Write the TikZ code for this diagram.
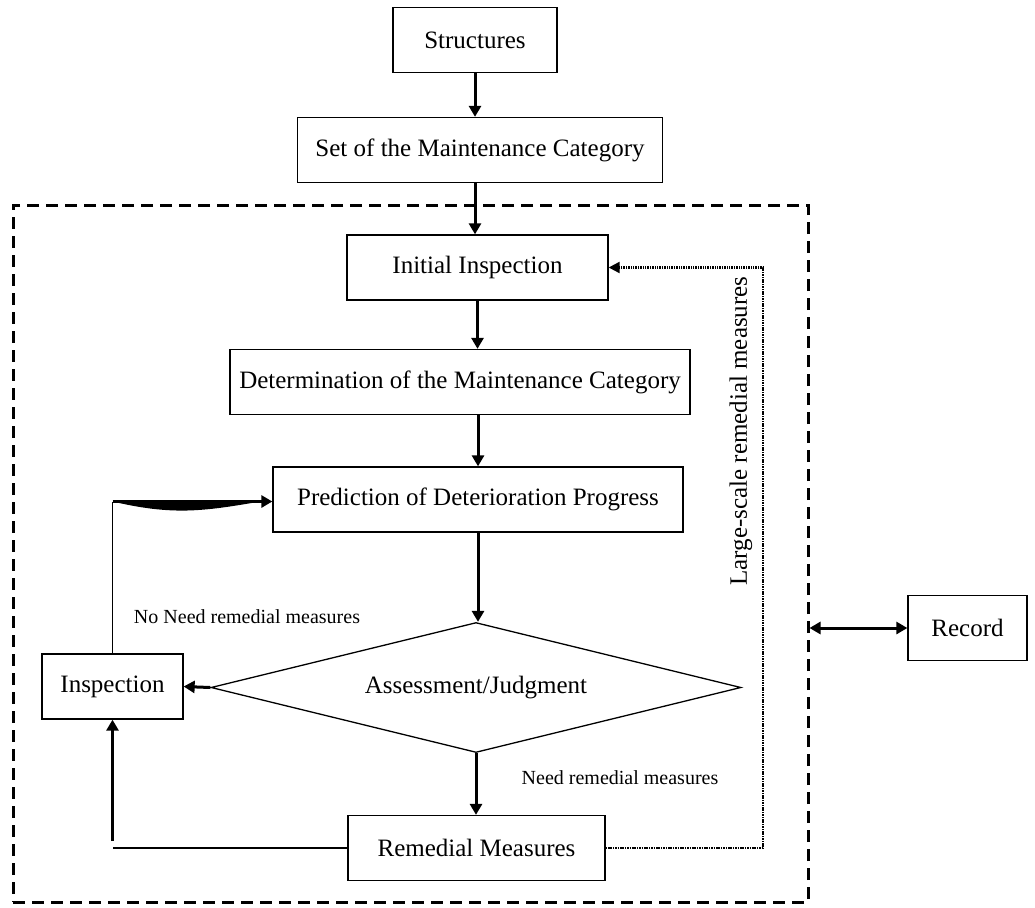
\documentclass[tikz,border=0pt]{standalone}
\usepackage{fontspec}
\setmainfont{Liberation Serif}
\usetikzlibrary{arrows.meta, shapes.geometric, calc}
\tikzset{>={Triangle[length=11pt,width=12pt]}}
\tikzset{box/.style={draw, line width=1.3pt, inner sep=0pt, minimum height=65pt, font=\fontsize{25}{30}\selectfont},
	flow/.style={line width=3pt, ->},
	note/.style={font=\fontsize{20}{24}\selectfont}}

\begin{document}
\begin{tikzpicture}[x=1pt, y=-1pt]

	\useasboundingbox (0,0) rectangle (1035,907);

	% outer frame
	\node (frame) [draw, line width=3pt, dash pattern=on 12pt off 7pt, minimum width=795pt, minimum height=697pt] at (410.5,553.5) {};

	\node (structures) [box, minimum width=164pt] at (475,40) {Structures};
	\node (setcat) [box, minimum width=365pt] at (480,150) {Set of the Maintenance Category};
	\node (initial) [box, minimum width=261pt] at (477.5,267.5) {Initial Inspection};
	\node (determ) [box, minimum width=460pt] at (460,382) {Determination of the Maintenance Category};
	\node (predict) [box, minimum width=410pt] at (478,499.5) {Prediction of Deterioration Progress};
	\node (judge) [diamond, draw, line width=1.3pt, inner sep=0pt, shape aspect=4.08, minimum width=530pt, minimum height=130pt, font=\fontsize{25}{30}\selectfont] at (476,687.5) {Assessment/Judgment};
	\node (insp) [box, minimum width=141pt] at (112.5,686.5) {Inspection};
	\node (remedy) [box, minimum width=257pt] at (476.5,848) {Remedial Measures};
	\node (record) [box, minimum width=119pt] at (967.5,628) {Record};

	% main flow
	\draw [flow] (structures.south) -- (structures.south |- setcat.north);
	\draw [flow] (setcat.south -| structures.south) -- (initial.north -| structures.south);
	\draw [flow] (initial.south) -- (initial.south |- determ.north);
	\draw [flow] (determ.south -| predict) -- (predict.north);
	\draw [flow] (predict.south) -- (predict.south |- judge.north);
	\draw [flow] (judge.south) -- (judge.south |- remedy.north);
	\draw [flow] (judge.west) -- (insp.east);

	% back to inspection
	\coordinate (lowturn) at (remedy.west -| insp.south);
	\draw [line width=1.3pt] (remedy.west) -- (lowturn);
	\draw [flow] ([yshift=7pt]lowturn) -- (insp.south);

	% inspection loop to prediction
	\coordinate (highturn) at ([yshift=-2pt]predict.west -| insp.north);
	\draw [line width=1.3pt] (insp.north) -- (highturn);
	\draw [flow] (highturn) -- (predict.west |- highturn);
	\fill (highturn) .. controls ([xshift=60pt,yshift=-14pt]highturn) and ([xshift=-70pt,yshift=-10pt]predict.west |- highturn) .. ([xshift=-12pt]predict.west |- highturn) -- cycle;

	% large-scale remedial measures
	\coordinate (dotturn) at (763,267.5);
	\draw [line width=2.2pt, dash pattern=on 1.5pt off 0.9pt, -{Triangle[length=11pt,width=11pt]}] (remedy.east) -| (dotturn) -- (initial.east);
	\node (large) [rotate=90, font=\fontsize{25}{30}\selectfont] at (741,431) {Large-scale remedial measures};

	\node (noneed) [note] at (247,617) {No Need remedial measures};
	\node (need) [note] at (620,778) {Need remedial measures};

	% record
	\draw [line width=3pt, <->] (record.west -| frame.east) -- (record.west);

\end{tikzpicture}
\end{document}
